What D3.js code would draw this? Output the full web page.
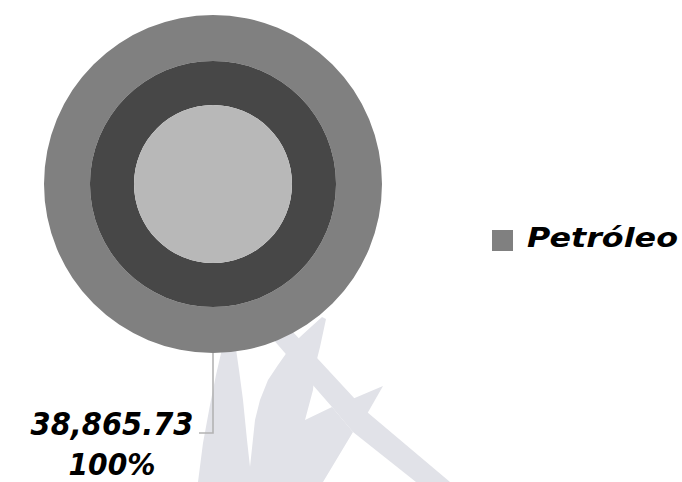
<!DOCTYPE html>
<html>
<head>
<meta charset="utf-8">
<script src="https://cdn.jsdelivr.net/npm/d3@7"></script>
<style>
html,body{margin:0;padding:0;background:#ffffff;}
svg{display:block;}
</style>
</head>
<body>
<script>
// ---- data ----
const categories = ["Petróleo"];
const seriesValues = [38865.73];
const ringSeries = ["Serie 1", "Serie 2", "Serie 3"]; // outer -> inner, each 100 %

// ---- styles / layout ----
const W = 682, H = 482;
const ringColors = ["#808080", "#474747", "#b8b8b8"];
const legendColor = "#808080";
const cx = 213, cy = 184;
const radii = [[123, 169], [79, 123], [0, 79]];
const fontFam = "'DejaVu Sans', 'Liberation Sans', sans-serif";

const svg = d3.select("body").append("svg")
  .attr("width", W).attr("height", H);

// ---- background watermark (decorative) ----
const wmColor = "#e1e2e8";
const wmShapes = [
  // left leaf
  [[222,349],[236,349],[239,370],[243,400],[247,440],[250,467],[252,482],[198,482],[203,443],[210,405],[216,375]],
  // central stroke with upward spike and notch
  [[250,467],[255,420],[260,400],[268,380],[278,365],[290,348],[300,337],[312,326],[322,317],[326,319],[320,347],[315,367],[313,390],[305,420],[332,407],[353,432],[323,482],[250,482]],
  // diagonal band
  [[258,322],[280,318],[367,412],[450,482],[416,482],[353,432],[332,407]],
  // right arm
  [[350,400],[383,386],[367,414]]
];
const wmLine = d3.line().curve(d3.curveLinearClosed);
svg.append("g").selectAll("path").data(wmShapes).join("path")
  .attr("d", d => wmLine(d))
  .attr("fill", wmColor);

// ---- rings ----
const pie = d3.pie().sort(null).value(d => d);
const total = d3.sum(seriesValues);
const g = svg.append("g").attr("transform", `translate(${cx},${cy})`);

ringSeries.forEach((s, i) => {
  const arc = d3.arc().innerRadius(radii[i][0]).outerRadius(radii[i][1]);
  g.append("g").selectAll("path").data(pie(seriesValues)).join("path")
    .attr("d", arc)
    .attr("fill", ringColors[i]);
});

// ---- data label with leader line (outer ring) ----
const slices = pie(seriesValues);
const fmt = d3.format(",.2f");
const pct = d3.format(".0%");
slices.forEach((sl, i) => {
  // anchor on bottom of the outer ring (angle pi)
  const anchor = d3.arc().innerRadius(radii[0][1]).outerRadius(radii[0][1])
    .startAngle(Math.PI).endAngle(Math.PI).centroid();
  const ax = cx + anchor[0], ay = cy + anchor[1];
  const elbowY = 433, endX = 199;
  svg.append("path")
    .attr("d", `M${ax},${ay} L${ax},${elbowY} L${endX},${elbowY}`)
    .attr("fill", "none").attr("stroke", "#b3b3b3").attr("stroke-width", 1.6);
  svg.append("text")
    .attr("x", 112).attr("y", 435)
    .attr("text-anchor", "middle")
    .attr("font-family", fontFam).attr("font-weight", "bold").attr("font-style", "italic")
    .attr("font-size", 32).attr("fill", "#000")
    .attr("textLength", 163).attr("lengthAdjust", "spacingAndGlyphs")
    .text(fmt(seriesValues[i]));
  svg.append("text")
    .attr("x", 112).attr("y", 475)
    .attr("text-anchor", "middle")
    .attr("font-family", fontFam).attr("font-weight", "bold").attr("font-style", "italic")
    .attr("font-size", 30).attr("fill", "#000")
    .attr("textLength", 87).attr("lengthAdjust", "spacingAndGlyphs")
    .text(pct(seriesValues[i] / total));
});

// ---- legend ----
const legend = svg.append("g").selectAll("g").data(categories).join("g");
legend.append("rect")
  .attr("x", 492).attr("y", 230).attr("width", 21).attr("height", 21)
  .attr("fill", legendColor);
legend.append("text")
  .attr("x", 527).attr("y", 247)
  .attr("font-family", fontFam).attr("font-weight", "bold").attr("font-style", "italic")
  .attr("font-size", 27).attr("fill", "#000")
  .attr("textLength", 151).attr("lengthAdjust", "spacingAndGlyphs")
  .text(d => d);
</script>
</body>
</html>
